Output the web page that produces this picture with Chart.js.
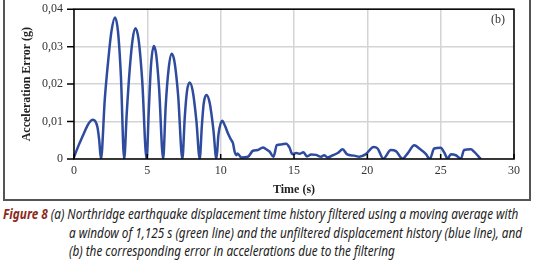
<!DOCTYPE html>
<html>
<head>
<meta charset="utf-8">
<script src="https://cdn.jsdelivr.net/npm/chart.js@4.4.1/dist/chart.umd.min.js"></script>
<style>
  body { margin: 0; background: #fff; width: 535px; height: 269px; overflow: hidden; position: relative; }
  #frame { position: absolute; left: 3px; top: -3px; width: 524px; height: 200px; border: 2px solid #555; }
  #wrap { position: absolute; left: 0; top: -8px; width: 522px; height: 208px; }
  #tag { position: absolute; left: 491px; top: 12px; font: 12px "Liberation Serif", serif; color: #333; }
  #caption { position: absolute; left: 3px; top: 205px; font: italic 13.5px "Noto Sans", sans-serif; color: #222; line-height: 18.5px; }
  #caption div { white-space: nowrap; transform-origin: 0 0; }
  #caption b { color: #8c2a1c; }
  #caption .ind { margin-left: 66px; }
</style>
</head>
<body>
<div id="frame"><div id="wrap"><canvas id="err_chart"></canvas></div></div>
<div id="tag">(b)</div>
<div id="caption">
  <div id="cap1"><b>Figure 8</b> (a) Northridge earthquake displacement time history filtered using a moving average with</div>
  <div class="ind">a window of 1,125 s (green line) and the unfiltered displacement history (blue line), and</div>
  <div class="ind">(b) the corresponding error in accelerations due to the filtering</div>
</div>
<script>
  const times = [0, 0.3, 0.6, 0.9, 1.1, 1.27, 1.45, 1.6, 1.72, 1.84,
    2.1, 2.35, 2.55, 2.79, 3.0, 3.2, 3.42,
    3.6, 3.8, 4.0, 4.19, 4.4, 4.65, 4.95,
    5.1, 5.25, 5.44, 5.6, 5.8, 6.08,
    6.25, 6.45, 6.66, 6.85, 7.1, 7.39,
    7.55, 7.7, 7.89, 8.1, 8.35, 8.57,
    8.72, 8.85, 9.03, 9.25, 9.5, 9.71,
    9.85, 10.1, 10.3, 10.5, 10.7, 10.84, 10.95, 11.07, 11.15, 11.4, 11.86,
    12.2, 12.53, 12.88, 13.1, 13.33, 13.6, 13.83, 14.13, 14.47, 14.7, 14.88,
    15.15, 15.38, 15.65, 15.88, 16.17, 16.5, 16.85, 17.05, 17.3, 17.64, 17.98,
    18.32, 18.6, 19.1, 19.46, 19.9, 20.43, 20.7, 21.09, 21.6, 21.95, 22.4,
    22.75, 23.2, 23.54, 24.0, 24.26, 24.56, 25.0, 25.25, 25.47, 25.7, 26.04,
    26.38, 26.6, 27.06, 27.29, 27.74];
  const errors = [0.0005, 0.0035, 0.0062, 0.0088, 0.0100, 0.0105, 0.0101, 0.0085, 0.005, 0,
    0.016, 0.027, 0.034, 0.0378, 0.034, 0.022, 0,
    0.0125, 0.024, 0.032, 0.0349, 0.032, 0.021, 0,
    0.013, 0.025, 0.0302, 0.028, 0.019, 0,
    0.014, 0.024, 0.0281, 0.026, 0.017, 0,
    0.011, 0.018, 0.0204, 0.018, 0.010, 0,
    0.009, 0.015, 0.0171, 0.015, 0.008, 0,
    0.0065, 0.0102, 0.0088, 0.0068, 0.0052, 0.0042, 0.002, 0.001, 0.0015, 0.0004, 0.0006,
    0.0022, 0.0024, 0.0031, 0.0026, 0.002, 0.0006, 0.0037, 0.0039, 0.0041, 0.003, 0.0013,
    0.0016, 0.0014, 0.0018, 0.0007, 0.0012, 0.0011, 0.0006, 0.001, 0.0004, 0.001, 0.0016,
    0.0026, 0.0013, 0.0009, 0.0006, 0.0013, 0.0032, 0.0028, 0.0001, 0.0024, 0.0021, 0.0001,
    0.0015, 0.0037, 0.0028, 0.0013, 0, 0.0028, 0.003, 0.0017, 0.0001, 0.0013, 0.001,
    0.0001, 0.0024, 0.0026, 0.0019, 0];
  const xTicks = [0, 5, 10, 15, 20, 25, 30];
  const yTicks = [0, 0.01, 0.02, 0.03, 0.04];

  // squeeze the caption lines to the narrow print face width
  const capScale = 515 / document.getElementById('cap1').scrollWidth;
  document.querySelectorAll('#caption div').forEach(d => { d.style.transform = 'scaleX(' + capScale + ')'; });

  const tickFont = { family: '"Liberation Serif", serif', size: 12 };
  const titleFont = { family: '"Liberation Serif", serif', size: 12, weight: 'bold' };

  // black box around the plot plus the small tick marks
  const frameBox = {
    id: 'frameBox',
    afterDraw(chart) {
      const a = chart.chartArea, ctx = chart.ctx;
      const xs = chart.scales.x, ys = chart.scales.y;
      ctx.save();
      ctx.strokeStyle = '#000';
      ctx.lineWidth = 1.5;
      ctx.strokeRect(a.left, a.top, a.right - a.left, a.bottom - a.top);
      ctx.beginPath();
      xTicks.forEach(v => {
        const px = xs.getPixelForValue(v);
        ctx.moveTo(px, a.bottom); ctx.lineTo(px, a.bottom - 5);
      });
      yTicks.forEach(v => {
        const py = ys.getPixelForValue(v);
        ctx.moveTo(a.left - 7, py); ctx.lineTo(a.left, py);
      });
      ctx.stroke();
      ctx.restore();
    }
  };

  new Chart(document.getElementById('err_chart'), {
    type: 'line',
    data: {
      datasets: [{
        data: times.map((t, i) => ({ x: t, y: errors[i] })),
        borderColor: '#2e4b9e',
        borderWidth: 2.5,
        pointRadius: 0,
        cubicInterpolationMode: 'monotone',
        fill: false
      }]
    },
    options: {
      animation: false,
      responsive: true,
      maintainAspectRatio: false,
      layout: { padding: { top: 0, right: 13, left: 0, bottom: 0 } },
      plugins: { legend: { display: false }, tooltip: { enabled: false } },
      scales: {
        x: {
          type: 'linear', min: 0, max: 30,
          afterBuildTicks: s => { s.ticks = xTicks.map(v => ({ value: v })); },
          afterFit: s => { s.height = 40; },
          grid: { color: '#d4d4d4', lineWidth: 1.5, drawTicks: false },
          border: { display: false },
          ticks: { color: '#333', font: tickFont, padding: 5, maxRotation: 0 },
          title: { display: true, text: 'Time (s)', color: '#222', font: titleFont, padding: { top: 0, bottom: 2 } }
        },
        y: {
          min: 0, max: 0.04,
          afterBuildTicks: s => { s.ticks = yTicks.map(v => ({ value: v })); },
          afterFit: s => { s.width = 69; },
          grid: { color: '#d4d4d4', lineWidth: 1.5, drawTicks: false },
          border: { display: false },
          ticks: {
            color: '#333', font: tickFont, padding: 11,
            callback: v => v === 0 ? '0' : v.toFixed(2).replace('.', ',')
          },
          title: { display: true, text: 'Acceleration Error (g)', color: '#222', font: titleFont, padding: { top: 15, bottom: 0 } }
        }
      }
    },
    plugins: [frameBox]
  });
</script>
</body>
</html>
